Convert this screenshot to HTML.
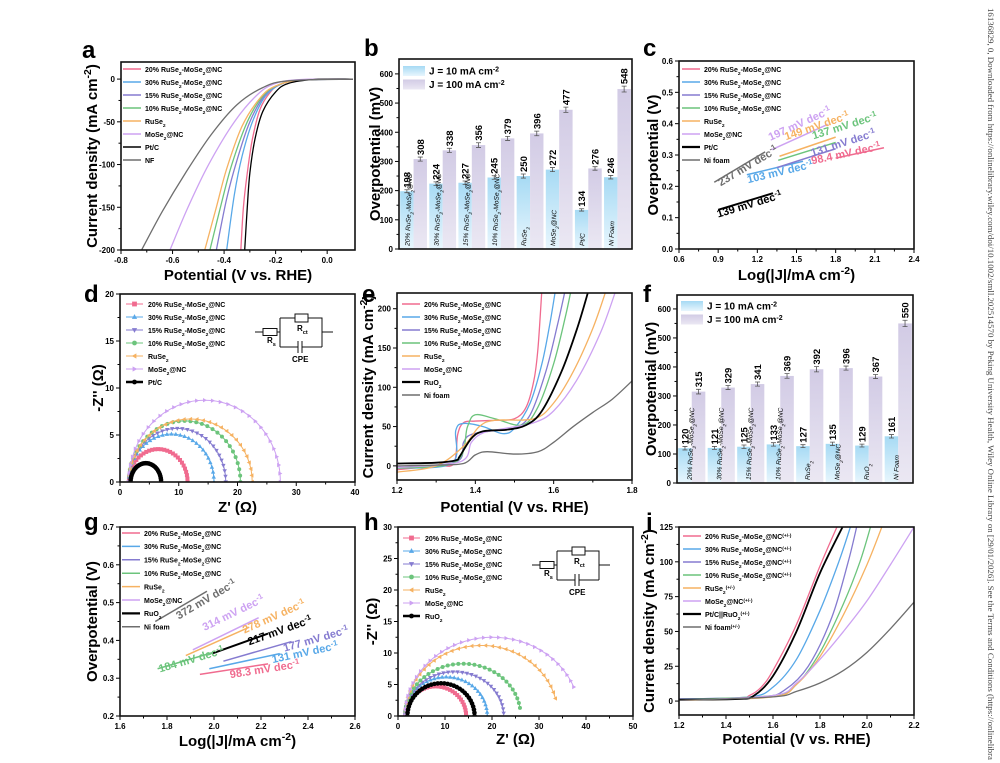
<!DOCTYPE html>
<html><head><meta charset="utf-8"><style>
html,body{margin:0;padding:0;background:#fff;}
svg{display:block;}
</style></head><body>
<svg id="fig" width="1000" height="763" viewBox="0 0 1000 763" xmlns="http://www.w3.org/2000/svg">
<defs>
<linearGradient id="gBlue" x1="0" y1="0" x2="0" y2="1"><stop offset="0" stop-color="#a6daf4"/><stop offset="1" stop-color="#e8f6fd"/></linearGradient>
<linearGradient id="gPur" x1="0" y1="0" x2="0" y2="1"><stop offset="0" stop-color="#d2cbe5"/><stop offset="1" stop-color="#ebe8f3"/></linearGradient>
</defs>
<text x="988" y="8" transform="rotate(90 988 8)" font-family="Liberation Serif, serif" font-size="8.6" fill="#444" textLength="752" lengthAdjust="spacingAndGlyphs">16136829, 0, Downloaded from https://onlinelibrary.wiley.com/doi/10.1002/smll.202514570 by Peking University Health, Wiley Online Library on [29/01/2026]. See the Terms and Conditions (https://onlinelibra</text>
</svg>
<script>
// ---------- DATA ----------
const names8 = ['20% RuSe_2-MoSe_2@NC','30% RuSe_2-MoSe_2@NC','15% RuSe_2-MoSe_2@NC','10% RuSe_2-MoSe_2@NC','RuSe_2','MoSe_2@NC'];
const colors8 = ['#f06b8f','#58a8e8','#857bd0','#6cc47c','#f6b262','#cda2f2','#000000','#6e6e6e'];
// panel a (HER LSV) [V, J]
const a_20 = [[0.1,0],[-0.1,-0.8],[-0.18,-6],[-0.22,-15],[-0.26,-35],[-0.29,-70],[-0.31,-110],[-0.325,-150],[-0.335,-200]];
const a_30 = [[0.1,0],[-0.1,-1],[-0.18,-6],[-0.24,-20],[-0.29,-50],[-0.33,-90],[-0.36,-135],[-0.39,-200]];
const a_15 = [[0.1,0],[-0.1,-1],[-0.18,-6],[-0.24,-18],[-0.3,-50],[-0.35,-95],[-0.39,-140],[-0.43,-200]];
const a_10 = [[0.1,0],[-0.1,-1],[-0.19,-7],[-0.25,-20],[-0.31,-50],[-0.37,-100],[-0.41,-145],[-0.455,-200]];
const a_Ru = [[0.1,0],[-0.1,-1],[-0.2,-8],[-0.26,-22],[-0.33,-55],[-0.39,-105],[-0.43,-150],[-0.475,-200]];
const a_Mo = [[0.1,0],[-0.1,-0.5],[-0.2,-5],[-0.27,-18],[-0.36,-50],[-0.46,-100],[-0.54,-150],[-0.61,-200]];
const a_Pt = [[0.1,0],[-0.05,-0.5],[-0.15,-5],[-0.2,-15],[-0.25,-38],[-0.28,-70],[-0.3,-110],[-0.31,-150],[-0.32,-200]];
const a_NF = [[0.1,0],[-0.15,-2],[-0.25,-10],[-0.35,-30],[-0.45,-65],[-0.55,-110],[-0.64,-155],[-0.72,-200]];
const aXTicks = [-0.8,-0.6,-0.4,-0.2,0.0];
const aXLabels = ['-0.8','-0.6','-0.4','-0.2','0.0'];
const aYTicks = [0,-50,-100,-150,-200];
const aYLabels = ['0','-50','-100','-150','-200'];
// panel b
const bCats = ['20% RuSe_2-MoSe_2@NC','30% RuSe_2-MoSe_2@NC','15% RuSe_2-MoSe_2@NC','10% RuSe_2-MoSe_2@NC','RuSe_2','MoSe_2@NC','Pt/C','Ni Foam'];
const b10 = [198,224,227,245,250,272,134,246];
const b100 = [308,338,356,379,396,477,276,548];
const bErr10 = [5,6,6,6,7,7,4,6];
const bErr100 = [7,7,8,7,8,9,6,10];
const barYTicks = [0,100,200,300,400,500,600];
const barYLabels = ['0','100','200','300','400','500','600'];
// panel c (Tafel HER)
const c_seg = [[1.8,0.29,2.17,0.323],[1.12,0.237,1.55,0.28],[1.35,0.26,1.8,0.32],[1.36,0.283,1.8,0.34],[1.37,0.296,1.8,0.357],[1.31,0.317,1.74,0.398],[0.9,0.125,1.32,0.178],[0.87,0.213,1.26,0.31]];
const c_lab = ['98.4','103','131','137','149','197','139','237'];
const c_labPos = [[1.62,0.27],[1.13,0.21],[1.62,0.295],[1.63,0.35],[1.42,0.347],[1.3,0.345],[0.9,0.1],[0.92,0.2]];
const cXTicks = [0.6,0.9,1.2,1.5,1.8,2.1,2.4];
const cXLabels = ['0.6','0.9','1.2','1.5','1.8','2.1','2.4'];
const cYTicks = [0,0.1,0.2,0.3,0.4,0.5,0.6];
const cYLabels = ['0.0','0.1','0.2','0.3','0.4','0.5','0.6'];
// panel d (Nyquist HER)
const d_rs = [1.5,1.5,1.5,1.5,1.5,1.5,1.8];
const d_rct = [10,14.5,16.5,19,21,25.8,5.2];
const d_peak = [3.5,5.1,5.7,6.5,6.7,8.7,2];
const d_shape = ['square','up','down','circle','left','right','circle'];
const dXTicks = [0,10,20,30,40]; const dXLabels = ['0','10','20','30','40'];
const dYTicks = [0,5,10,15,20]; const dYLabels = ['0','5','10','15','20'];
// panel e (OER LSV)
const e_20 = [[1.2,-5],[1.3,0],[1.345,3],[1.355,40],[1.37,55],[1.4,57],[1.45,58],[1.5,60],[1.53,75],[1.55,110],[1.56,150],[1.57,225]];
const e_30 = [[1.2,-3],[1.34,3],[1.35,45],[1.37,54],[1.42,50],[1.47,41],[1.5,48],[1.54,80],[1.57,130],[1.59,180],[1.605,225]];
const e_15 = [[1.2,-2],[1.35,5],[1.37,30],[1.39,40],[1.45,45],[1.5,48],[1.54,65],[1.58,120],[1.61,180],[1.63,225]];
const e_10 = [[1.2,-3],[1.35,5],[1.38,50],[1.4,65],[1.45,60],[1.52,52],[1.56,75],[1.6,130],[1.63,190],[1.645,225]];
const e_Ru = [[1.2,-8],[1.3,0],[1.37,25],[1.41,50],[1.45,58],[1.55,60],[1.6,80],[1.65,120],[1.7,175],[1.735,225]];
const e_Mo = [[1.2,-2],[1.36,5],[1.39,30],[1.42,42],[1.48,48],[1.55,55],[1.6,70],[1.66,110],[1.72,170],[1.76,225]];
const e_RuO2 = [[1.2,3],[1.3,4],[1.35,7],[1.36,12],[1.39,35],[1.42,44],[1.48,46],[1.53,52],[1.57,70],[1.62,120],[1.66,175],[1.69,225]];
const e_NF = [[1.2,0],[1.3,1],[1.37,3],[1.4,14],[1.43,18],[1.5,15],[1.56,18],[1.6,30],[1.65,50],[1.7,68],[1.75,85],[1.8,108]];
const eXTicks = [1.2,1.4,1.6,1.8]; const eXLabels = ['1.2','1.4','1.6','1.8'];
const eYTicks = [0,50,100,150,200]; const eYLabels = ['0','50','100','150','200'];
// panel f
const fCats = ['20% RuSe_2-MoSe_2@NC','30% RuSe_2-MoSe_2@NC','15% RuSe_2-MoSe_2@NC','10% RuSe_2-MoSe_2@NC','RuSe_2','MoSe_2@NC','RuO_2','Ni Foam'];
const f10 = [120,121,125,133,127,135,129,161];
const f100 = [315,329,341,369,392,396,367,550];
const fErr10 = [6,5,6,6,5,6,5,6];
const fErr100 = [8,7,7,8,9,7,7,11];
// panel g (Tafel OER)
const g_seg = [[1.94,0.31,2.23,0.338],[1.98,0.325,2.28,0.365],[2.04,0.345,2.33,0.397],[1.76,0.325,1.99,0.367],[1.88,0.36,2.15,0.435],[1.91,0.375,2.19,0.46],[1.99,0.365,2.23,0.418],[1.75,0.45,1.97,0.53]];
const g_lab = ['98.3','131','177','184','278','314','217','372'];
const g_labPos = [[2.07,0.3],[2.25,0.34],[2.3,0.37],[1.77,0.315],[2.13,0.418],[1.96,0.425],[2.15,0.387],[1.85,0.455]];
const gXTicks = [1.6,1.8,2.0,2.2,2.4,2.6]; const gXLabels = ['1.6','1.8','2.0','2.2','2.4','2.6'];
const gYTicks = [0.2,0.3,0.4,0.5,0.6,0.7]; const gYLabels = ['0.2','0.3','0.4','0.5','0.6','0.7'];
// panel h (Nyquist OER)
const h_rs = [1.5,1.5,1.5,1.5,1.5,1.5,2];
const h_rct = [13,17.5,21,24.6,32.5,37.2,14.3];
const h_peak = [4.7,6.2,7,8.3,11.2,12.5,5.2];
const h_end = [1,1,0.98,0.95,0.92,0.88,1];
const hXTicks = [0,10,20,30,40,50]; const hXLabels = ['0','10','20','30','40','50'];
const hYTicks = [0,5,10,15,20,25,30]; const hYLabels = ['0','5','10','15','20','25','30'];
// panel i (overall water splitting)
const i_20 = [[1.2,1],[1.45,2],[1.5,4],[1.55,10],[1.6,22],[1.7,55],[1.8,97],[1.88,128]];
const i_30 = [[1.2,1.5],[1.5,3],[1.6,10],[1.7,30],[1.8,65],[1.88,100],[1.935,128]];
const i_15 = [[1.2,1.5],[1.55,3],[1.65,8],[1.75,25],[1.85,60],[1.92,100],[1.96,128]];
const i_10 = [[1.2,1],[1.6,4],[1.7,12],[1.8,35],[1.9,70],[1.97,100],[2.02,128]];
const i_Ru = [[1.2,0.5],[1.6,3],[1.7,12],[1.8,32],[1.9,62],[2.0,98],[2.07,128]];
const i_Mo = [[1.2,0.5],[1.6,4],[1.7,13],[1.8,30],[1.9,50],[2.0,72],[2.1,98],[2.2,125]];
const i_Pt = [[1.2,1],[1.45,1.5],[1.52,4],[1.6,18],[1.7,50],[1.8,92],[1.905,128]];
const i_NF = [[1.2,0.5],[1.6,3],[1.7,7],[1.8,13],[1.9,22],[2.0,35],[2.1,52],[2.2,71]];
const iXTicks = [1.2,1.4,1.6,1.8,2.0,2.2]; const iXLabels = ['1.2','1.4','1.6','1.8','2.0','2.2'];
const iYTicks = [0,25,50,75,100,125]; const iYLabels = ['0','25','50','75','100','125'];

// ---------- HELPERS ----------
const svg = document.getElementById('fig');
const NS = 'http://www.w3.org/2000/svg';
const FF = 'Liberation Sans, Arial, sans-serif';
function mk(tag, attrs, parent){const e=document.createElementNS(NS,tag);for(const k in attrs)e.setAttribute(k,attrs[k]);(parent||svg).appendChild(e);return e;}
function fmt(s){return s.replace(/_\{([^}]*)\}/g,'<tspan baseline-shift="sub" font-size="70%">$1</tspan>').replace(/_(\w)/g,'<tspan baseline-shift="sub" font-size="70%">$1</tspan>').replace(/\^\{([^}]*)\}/g,'<tspan baseline-shift="super" font-size="70%">$1</tspan>');}
function txt(parent,x,y,s,size,extra){const t=mk('text',Object.assign({x:x,y:y,'font-size':size,'font-weight':'bold','font-family':FF},extra||{}),parent);t.innerHTML=fmt(s);return t;}
function lin(d0,d1,r0,r1){return v=>r0+(v-d0)*(r1-r0)/(d1-d0);}
function smooth(p){if(p.length<2)return '';let d='M'+p[0][0].toFixed(2)+','+p[0][1].toFixed(2);for(let i=0;i<p.length-1;i++){const p0=p[i-1]||p[i],p1=p[i],p2=p[i+1],p3=p[i+2]||p2;const c1=[p1[0]+(p2[0]-p0[0])/6,p1[1]+(p2[1]-p0[1])/6],c2=[p2[0]-(p3[0]-p1[0])/6,p2[1]-(p3[1]-p1[1])/6];d+='C'+c1.map(v=>v.toFixed(2))+' '+c2.map(v=>v.toFixed(2))+' '+p2.map(v=>v.toFixed(2));}return d;}
let clipN=0;
function panel(name,P){
  const g=mk('g',{});
  
  
  const sx=lin(P.xd[0],P.xd[1],P.x0,P.x1), sy=lin(P.yd[0],P.yd[1],P.y1,P.y0);
  const cid='clip'+(clipN++);
  const cp=mk('clipPath',{id:cid},g);mk('rect',{x:P.x0,y:P.y0,width:P.x1-P.x0,height:P.y1-P.y0},cp);
  const plot=mk('g',{'clip-path':'url(#'+cid+')'},g);
  
  
  const ax=mk('g',{},g);
  
  
  if(P.xt){P.xt.forEach((v,i)=>{const x=sx(v);mk('line',{x1:x,y1:P.y1,x2:x,y2:P.y1+4,stroke:'#000','stroke-width':1},ax);
    if(i<P.xt.length-1){const xm=sx((v+P.xt[i+1])/2);mk('line',{x1:xm,y1:P.y1,x2:xm,y2:P.y1+2.5,stroke:'#000','stroke-width':1},ax);}
    const t=txt(ax,x,P.y1+13,P.xl[i],8,{'text-anchor':'middle'});
    
    });}
  P.yt.forEach((v,i)=>{const y=sy(v);mk('line',{x1:P.x0-4,y1:y,x2:P.x0,y2:y,stroke:'#000','stroke-width':1},ax);
    if(i<P.yt.length-1){const ym=sy((v+P.yt[i+1])/2);mk('line',{x1:P.x0-2.5,y1:ym,x2:P.x0,y2:ym,stroke:'#000','stroke-width':1},ax);}
    const t=txt(ax,P.x0-6,y+3,P.yl[i],8,{'text-anchor':'end'});
    
    });
  const fr=mk('rect',{x:P.x0,y:P.y0,width:P.x1-P.x0,height:P.y1-P.y0,fill:'none',stroke:'#111','stroke-width':1.6},g);
  
  
  const L=txt(g,P.letter[1],P.letter[2],P.letter[0],24,{});
  
  
  if(P.xtitle){const t=txt(g,(P.x0+P.x1)/2,P.xty,P.xtitle,15,{'text-anchor':'middle'});
    
    }
  if(P.ytitle){const yc=(P.y0+P.y1)/2;const t=txt(g,P.ytx,yc,P.ytitle,15,{'text-anchor':'middle',transform:'rotate(-90 '+P.ytx+' '+yc+')'});
    
    }
  return {g,plot,sx,sy};
}
function curve(C,pts,color,w,name){const p=mk('path',{d:smooth(pts.map(q=>[C.sx(q[0]),C.sy(q[1])])),fill:'none',stroke:color,'stroke-width':w},C.plot);
  
  }
function legendLines(g,x,y,dy,labels,cols,widths,size){labels.forEach((s,i)=>{
  const l=mk('line',{x1:x,y1:y+i*dy,x2:x+18,y2:y+i*dy,stroke:cols[i],'stroke-width':widths[i]},g);
  
  
  const t=txt(g,x+22,y+i*dy+2.8,s,size,{});
  
  });}
function marker(g,shape,x,y,s,c){let e;
  if(shape==='square')e=mk('rect',{x:x-s,y:y-s,width:2*s,height:2*s,fill:c},g);
  else if(shape==='circle')e=mk('circle',{cx:x,cy:y,r:s,fill:c},g);
  else{const pts={up:[[0,-1.2],[1.1,0.8],[-1.1,0.8]],down:[[0,1.2],[1.1,-0.8],[-1.1,-0.8]],left:[[-1.2,0],[0.8,-1.1],[0.8,1.1]],right:[[1.2,0],[-0.8,-1.1],[-0.8,1.1]]}[shape];
    e=mk('polygon',{points:pts.map(p=>(x+p[0]*s)+','+(y+p[1]*s)).join(' '),fill:c},g);}
  
  }
function circuit(g,x,y){const c=mk('g',{stroke:'#111','stroke-width':1,fill:'none'},g);
  
  
  mk('path',{d:`M${x},${y}H${x+8}M${x+22},${y}H${x+25}M${x+25},${y-14}V${y+15}M${x+25},${y-14}H${x+40}M${x+53},${y-14}H${x+67}V${y+15}M${x+25},${y+15}H${x+43}M${x+47},${y+15}H${x+67}M${x+67},${y}H${x+78}M${x+43},${y+9}V${y+21}M${x+47},${y+9}V${y+21}`},c);
  mk('rect',{x:x+8,y:y-3.5,width:14,height:7,fill:'#fff'},c);mk('rect',{x:x+40,y:y-18,width:13,height:8,fill:'#fff'},c);
  const t1=txt(g,x+12,y+11,'R_s',8,{});
  
  
  const t2=txt(g,x+42,y-1,'R_{ct}',8,{});
  
  
  const t3=txt(g,x+37,y+30,'CPE',8,{});
  
  }
function bars(C,cats,v10,v100,e10,e100,nbar){
  const gw=(C.x1-C.x0)/cats.length;
  cats.forEach((cat,i)=>{const gx=C.x0+i*gw;const bw=gw*0.46;
    const xb=gx+gw*0.04,xp=xb+bw;const y0=C.sy(0);
    const r1=mk('rect',{x:xb,y:C.sy(v10[i]),width:bw,height:y0-C.sy(v10[i]),fill:'url(#gBlue)'},C.plot);
    
    
    const r2=mk('rect',{x:xp,y:C.sy(v100[i]),width:bw,height:y0-C.sy(v100[i]),fill:'url(#gPur)'},C.plot);
    
    
    [[xb,v10[i],e10[i]],[xp,v100[i],e100[i]]].forEach(b=>{const cx=b[0]+bw/2;const eb=mk('path',{d:`M${cx},${C.sy(b[1]+b[2])}V${C.sy(b[1]-b[2])}M${cx-2.5},${C.sy(b[1]+b[2])}H${cx+2.5}M${cx-2.5},${C.sy(b[1]-b[2])}H${cx+2.5}`,stroke:'#555','stroke-width':0.8,fill:'none'},C.plot);
      
      
      const ty=C.sy(b[1]+b[2])-2;const t=txt(C.g,cx+3.5,ty,String(b[1]),9.5,{transform:`rotate(-90 ${cx+3.5} ${ty})`});
      
      });
    const lx=xb+bw*(nbar?1.0:0.7),ly=y0-3;
    const t=txt(C.g,lx,ly,cat,6.6,{'font-weight':'normal','font-style':'italic',transform:`rotate(-88 ${lx} ${ly})`});
    
    });}
function barLegend(g,x,y){[['url(#gBlue)','J = 10 mA cm^{-2}'],['url(#gPur)','J = 100 mA cm^{-2}']].forEach((L,i)=>{
  const r=mk('rect',{x:x,y:y+i*13.5,width:22,height:10,fill:L[0]},g);
  
  
  const t=txt(g,x+26,y+i*13.5+8.5,L[1],10,{});
  
  });}
function tafel(C,seg,lab,pos,name){seg.forEach((s,i)=>{
  const l=mk('line',{x1:C.sx(s[0]),y1:C.sy(s[1]),x2:C.sx(s[2]),y2:C.sy(s[3]),stroke:colors8[i],'stroke-width':i===6?2:1.5},C.plot);
  
  
  const ang=Math.atan2(C.sy(s[3])-C.sy(s[1]),C.sx(s[2])-C.sx(s[0]))*180/Math.PI;
  const x=C.sx(pos[i][0]),y=C.sy(pos[i][1]);
  const t=txt(C.g,x,y,lab[i]+' mV dec^{-1}',11,{fill:colors8[i],transform:`rotate(${ang} ${x} ${y})`});
  
  });}
function nyquist(C,rs,rct,peak,endf,n){rs.forEach((r,i)=>{const col=i===6?'#000':colors8[i];
  const pts=[];for(let k=0;k<=n;k++){const t=Math.PI*k/n*(endf?endf[i]:1);pts.push([r+rct[i]/2*(1-Math.cos(t)),peak[i]*Math.sin(t)]);}
  curve(C,pts,col,i===6?2.5:1,'nyquist-curve-'+i);
  pts.forEach(p=>marker(C.plot,d_shape[i],C.sx(p[0]),C.sy(p[1]),i===6?2.3:2,col));});}

// ---------- PANEL A ----------
(function(){const C=panel('panel-a-her-lsv',{x0:121,x1:355,y0:62,y1:250,xd:[-0.8,0.108],yd:[-200,20],xt:aXTicks,xl:aXLabels,yt:aYTicks,yl:aYLabels,letter:['a',82,58],xtitle:'Potential (V vs. RHE)',xty:280,ytitle:'Current density (mA cm^{-2})',ytx:97});
 C.x0=121;C.x1=355;
 [a_20,a_30,a_15,a_10,a_Ru,a_Mo,a_Pt,a_NF].forEach((s,i)=>curve(C,s,colors8[i],1.3,'lsv-curve-'+i));
 legendLines(C.g,123,69,13,names8.concat(['Pt/C','NF']),colors8,[1.5,1.5,1.5,1.5,1.5,1.5,1.5,1.5],7);})();
// ---------- PANEL B ----------
(function(){const C=panel('panel-b-her-overpotential',{x0:399,x1:632,y0:59,y1:249,xd:[0,1],yd:[0,651],yt:barYTicks,yl:barYLabels,letter:['b',364,56],ytitle:'Overpotential (mV)',ytx:380});
 C.x0=399;C.x1=632;bars(C,bCats,b10,b100,bErr10,bErr100,false);barLegend(C.g,403,66);})();
// ---------- PANEL C ----------
(function(){const C=panel('panel-c-her-tafel',{x0:679,x1:914,y0:61,y1:249,xd:[0.6,2.4],yd:[0,0.6],xt:cXTicks,xl:cXLabels,yt:cYTicks,yl:cYLabels,letter:['c',643,56],xtitle:'Log(|J|/mA cm^{-2})',xty:280,ytitle:'Overpotential (V)',ytx:658});
 tafel(C,c_seg,c_lab,c_labPos,'tafel-her');
 legendLines(C.g,682,69,13,names8.concat(['Pt/C','Ni foam']),colors8,[1.5,1.5,1.5,1.5,1.5,1.5,2.2,1.5],7);})();
// ---------- PANEL D ----------
(function(){const C=panel('panel-d-her-nyquist',{x0:120,x1:355,y0:294,y1:482,xd:[0,40],yd:[0,20],xt:dXTicks,xl:dXLabels,yt:dYTicks,yl:dYLabels,letter:['d',84,302],xtitle:"Z' (Ω)",xty:512,ytitle:"-Z'' (Ω)",ytx:103});
 nyquist(C,d_rs,d_rct,d_peak,null,30);
 const labs=names8.concat(['Pt/C']);labs.forEach((s,i)=>{const y=304+i*13;const col=i===6?'#000':colors8[i];
   const l=mk('line',{x1:126,y1:y,x2:143,y2:y,stroke:col,'stroke-width':i===6?2.5:1},C.g);
   
   
   marker(C.g,d_shape[i],134.5,y,2.4,col);
   const t=txt(C.g,148,y+2.8,s,7,{});
   
   });
 circuit(C.g,255,332);})();
// ---------- PANEL E ----------
(function(){const C=panel('panel-e-oer-lsv',{x0:397,x1:632,y0:293,y1:480,xd:[1.2,1.8],yd:[-18,220],xt:eXTicks,xl:eXLabels,yt:eYTicks,yl:eYLabels,letter:['e',362,302],xtitle:'Potential (V vs. RHE)',xty:512,ytitle:'Current density (mA cm^{-2})',ytx:373});
 [e_20,e_30,e_15,e_10,e_Ru,e_Mo,e_RuO2,e_NF].forEach((s,i)=>curve(C,s,colors8[i],i===6?1.8:1.3,'oer-curve-'+i));
 legendLines(C.g,402,304,13,names8.concat(['RuO_2','Ni foam']),colors8,[1.5,1.5,1.5,1.5,1.5,1.5,2.2,1.5],7);})();
// ---------- PANEL F ----------
(function(){const C=panel('panel-f-oer-overpotential',{x0:677,x1:913,y0:295,y1:483,xd:[0,1],yd:[0,648],yt:barYTicks,yl:barYLabels,letter:['f',643,302],ytitle:'Overpotential (mV)',ytx:656});
 C.x0=677;C.x1=913;bars(C,fCats,f10,f100,fErr10,fErr100,true);barLegend(C.g,681,301);})();
// ---------- PANEL G ----------
(function(){const C=panel('panel-g-oer-tafel',{x0:120,x1:355,y0:527,y1:716,xd:[1.6,2.6],yd:[0.2,0.7],xt:gXTicks,xl:gXLabels,yt:gYTicks,yl:gYLabels,letter:['g',84,530],xtitle:'Log(|J|/mA cm^{-2})',xty:746,ytitle:'Overpotential (V)',ytx:97});
 tafel(C,g_seg,g_lab,g_labPos,'tafel-oer');
 legendLines(C.g,122,533,13.4,names8.concat(['RuO_2','Ni foam']),colors8,[1.5,1.5,1.5,1.5,1.5,1.5,2.2,1.5],7);})();
// ---------- PANEL H ----------
(function(){const C=panel('panel-h-oer-nyquist',{x0:398,x1:633,y0:527,y1:716,xd:[0,50],yd:[0,30],xt:hXTicks,xl:hXLabels,yt:hYTicks,yl:hYLabels,letter:['h',364,530],xtitle:"Z' (Ω)",xty:744,ytitle:"-Z'' (Ω)",ytx:377});
 nyquist(C,h_rs,h_rct,h_peak,h_end,32);
 const labs=names8.concat(['RuO_2']);labs.forEach((s,i)=>{const y=538+i*13;const col=i===6?'#000':colors8[i];
   const l=mk('line',{x1:403,y1:y,x2:420,y2:y,stroke:col,'stroke-width':i===6?2.5:1},C.g);
   
   
   marker(C.g,d_shape[i],411.5,y,2.4,col);
   const t=txt(C.g,425,y+2.8,s,7,{});
   
   });
 circuit(C.g,532,565);})();
// ---------- PANEL I ----------
(function(){const C=panel('panel-i-water-splitting',{x0:679,x1:914,y0:527,y1:715,xd:[1.2,2.2],yd:[-10,125],xt:iXTicks,xl:iXLabels,yt:iYTicks,yl:iYLabels,letter:['i',646,530],xtitle:'Potential (V vs. RHE)',xty:744,ytitle:'Current density (mA cm^{-2})',ytx:654});
 [i_20,i_30,i_15,i_10,i_Ru,i_Mo,i_Pt,i_NF].forEach((s,i)=>curve(C,s,colors8[i],i===6?1.8:1.3,'cell-curve-'+i));
 const labs=names8.map(s=>s+'^{(+/-)}').concat(['Pt/C||RuO_2^{(+/-)}','Ni foam^{(+/-)}']);
 legendLines(C.g,683,536,13,labs,colors8,[1.5,1.5,1.5,1.5,1.5,1.5,2.2,1.5],7);})();
</script>
</body></html>
